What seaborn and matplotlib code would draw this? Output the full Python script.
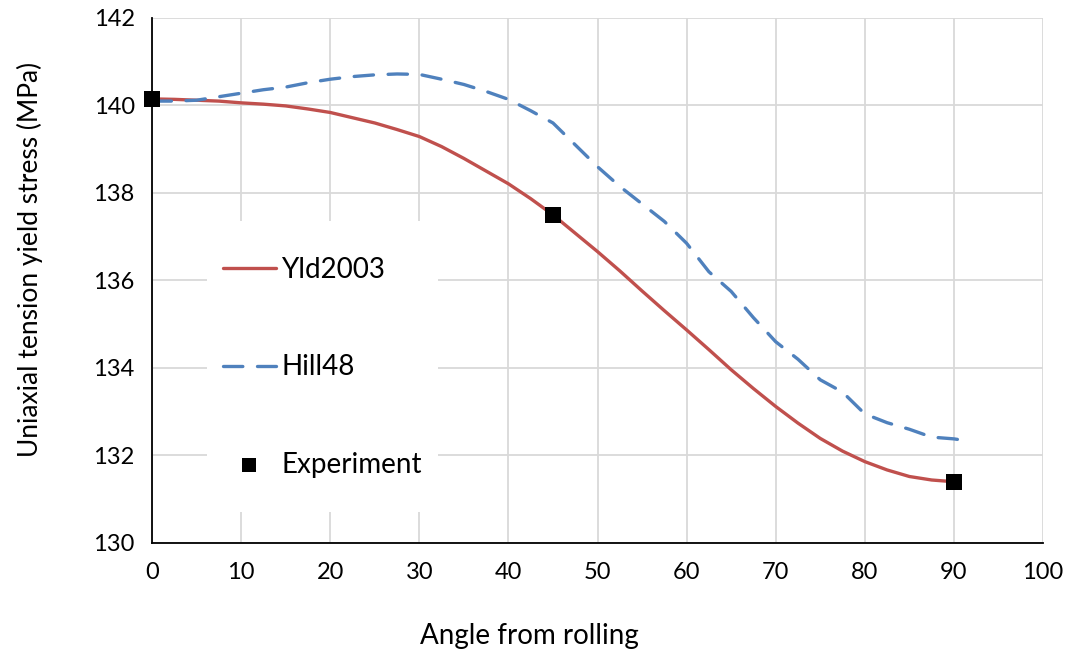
import numpy as np
import pandas as pd
import matplotlib
matplotlib.use("Agg")
import matplotlib.pyplot as plt
import seaborn as sns
from matplotlib.patches import Rectangle

# ---- data ----
yld_angle = [0, 2.5, 5, 7.5, 10, 12.5, 15, 17.5, 20, 22.5, 25, 27.5, 30, 32.5, 35, 37.5,
             40, 42.5, 45, 47.5, 50, 52.5, 55, 57.5, 60, 62.5, 65, 67.5, 70, 72.5, 75,
             77.5, 80, 82.5, 85, 87.5, 90]
yld_stress = [140.15, 140.14, 140.12, 140.10, 140.06, 140.03, 139.99, 139.92, 139.84,
              139.72, 139.60, 139.45, 139.29, 139.06, 138.79, 138.50, 138.21, 137.87,
              137.50, 137.08, 136.66, 136.22, 135.76, 135.31, 134.87, 134.42, 133.96,
              133.53, 133.12, 132.74, 132.39, 132.10, 131.86, 131.67, 131.52, 131.44,
              131.40]

hill_angle = [0, 2.5, 5, 7.5, 10, 12.5, 15, 17.5, 20, 22.5, 25, 27.5, 30, 32.5, 35, 37.5,
              40, 42.5, 45, 47.5, 50, 52.5, 55, 57.5, 60, 62.5, 65, 67.5, 70, 72.5, 75,
              77.5, 80, 82.5, 85, 87.5, 90, 91]
hill_stress = [140.10, 140.10, 140.12, 140.20, 140.28, 140.36, 140.42, 140.52, 140.60,
               140.66, 140.70, 140.72, 140.71, 140.60, 140.48, 140.32, 140.14, 139.88,
               139.60, 139.10, 138.60, 138.15, 137.75, 137.35, 136.85, 136.20, 135.75,
               135.15, 134.60, 134.20, 133.73, 133.45, 132.95, 132.75, 132.60, 132.42,
               132.38, 132.35]

exp_angle = [0, 45, 90]
exp_stress = [140.15, 137.50, 131.40]

x_ticks = [0, 10, 20, 30, 40, 50, 60, 70, 80, 90, 100]
y_ticks = [130, 132, 134, 136, 138, 140, 142]

yld_df = pd.DataFrame({"angle": yld_angle, "stress": yld_stress})
hill_df = pd.DataFrame({"angle": hill_angle, "stress": hill_stress})
exp_df = pd.DataFrame({"angle": exp_angle, "stress": exp_stress})

sns.set_theme(style="whitegrid")
plt.rcParams["font.family"] = ["Lato", "DejaVu Sans"]

fig = plt.figure(figsize=(10.67, 6.51), dpi=100)
ax = fig.add_axes([0.1425, 0.1659, 0.835, 0.8065])

red = "#c0504d"
blue = "#4f81bd"

sns.lineplot(data=yld_df, x="angle", y="stress", ax=ax, color=red, linewidth=2.4,
             label="Yld2003", zorder=3)
sns.lineplot(data=hill_df, x="angle", y="stress", ax=ax, color=blue, linewidth=2.4,
             label="Hill48", zorder=3)
hl = ax.lines[-1]
hl.set_dashes((5.8, 4.4))
hl.set_dash_capstyle("round")
sns.scatterplot(data=exp_df, x="angle", y="stress", ax=ax, color="black", marker="s",
                s=120, edgecolor="black", linewidth=0, label="Experiment", zorder=4,
                clip_on=False)

ax.set_xlim(0, 100)
ax.set_ylim(130, 142)
ax.set_xticks(x_ticks)
ax.set_yticks(y_ticks)
ax.set_xticklabels([str(v) for v in x_ticks])
ax.set_yticklabels([str(v) for v in y_ticks])

ax.grid(True, color="#d9d9d9", linewidth=1.3)
ax.set_axisbelow(True)
for s in ["top", "right"]:
    ax.spines[s].set_visible(False)
for s in ["left", "bottom"]:
    ax.spines[s].set_color("black")
    ax.spines[s].set_linewidth(1.3)

ax.tick_params(axis="both", direction="inout", length=11, width=1.3, color="black",
               labelsize=17, labelcolor="black")
ax.tick_params(axis="x", pad=8)
ax.tick_params(axis="y", pad=7)

ax.set_xlabel("Angle from rolling", fontsize=20, color="black", labelpad=29)
ax.set_ylabel("Uniaxial tension yield stress (MPa)", fontsize=19, color="black",
              labelpad=36)
ax.xaxis.label.set_x(0.423)
ax.yaxis.label.set_y(0.541)

# white legend area
ax.add_patch(Rectangle((0.0617, 0.059), 0.259, 0.554, transform=ax.transAxes,
                       facecolor="white", edgecolor="none", zorder=1))

handles, labels = ax.get_legend_handles_labels()
leg = ax.legend(handles, labels, loc="upper left", bbox_to_anchor=(0.0797, 0.545),
                frameon=False, fontsize=20, handlelength=1.9, handletextpad=0.2,
                labelspacing=2.57, borderpad=0, borderaxespad=0, markerscale=0.95)
for t in leg.get_texts():
    t.set_color("black")

fig.savefig("out.png", dpi=100)
